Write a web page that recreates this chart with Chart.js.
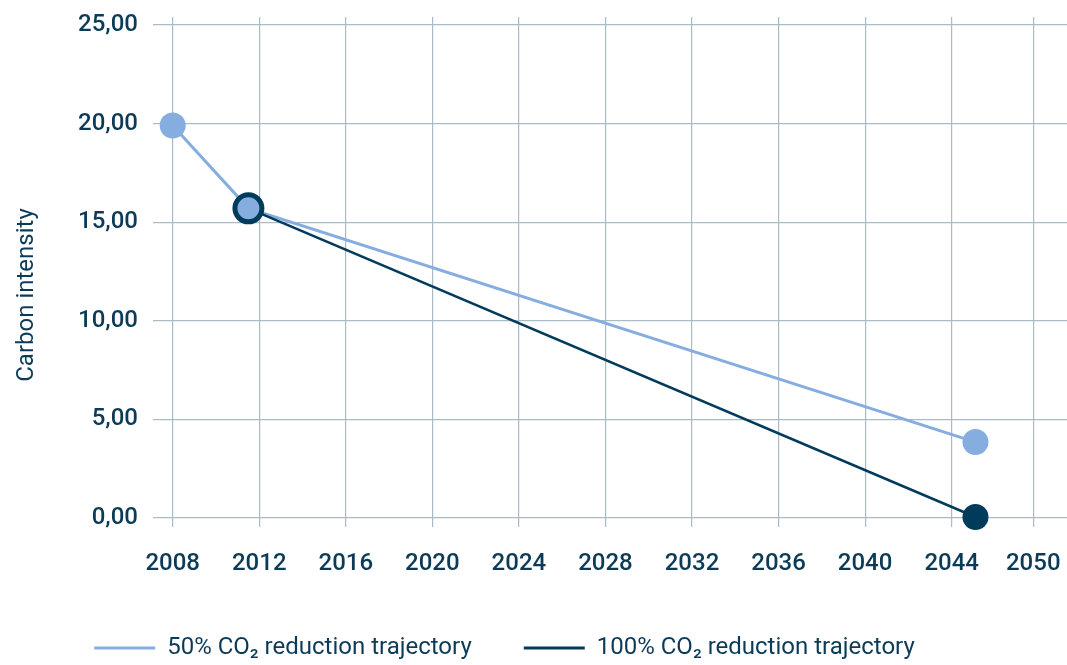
<!DOCTYPE html>
<html>
<head>
<meta charset="utf-8">
<script src="https://cdn.jsdelivr.net/npm/chart.js@4.4.1/dist/chart.umd.min.js"></script>
<style>
  html, body { margin: 0; padding: 0; background: #ffffff; }
  #wrap { width: 1067px; height: 665px; position: relative; }
</style>
</head>
<body>
<div id="wrap"><canvas id="c" width="1067" height="665"></canvas></div>
<script>
// ---- data ----
const seriesNames = ['50% CO\u2082 reduction trajectory', '100% CO\u2082 reduction trajectory'];
const years50 = [2008, 2011.5, 2045.1];
const values50 = [19.9, 15.7, 3.85];
const years100 = [2011.5, 2045.1];
const values100 = [15.7, 0.05];
const xTickPositions = [2008, 2012, 2016, 2020, 2024, 2028, 2032, 2036, 2040, 2044, 2047.77];
const xTickLabels = ['2008', '2012', '2016', '2020', '2024', '2028', '2032', '2036', '2040', '2044', '2050'];
const yTickValues = [0, 5, 10, 15, 20, 25];
const yTitle = 'Carbon intensity';

// ---- style ----
const LIGHT = '#85addf';
const DARK = '#003b5c';
const TEXT = '#0c3b58';
const GRID = '#a9bbc7';
const FONT = 'Roboto, "Noto Sans", sans-serif';

const toPoints = (xs, ys) => xs.map((x, i) => ({ x: x, y: ys[i] }));

const noPad = (scale) => {
  scale.paddingLeft = 0; scale.paddingRight = 0;
  scale.paddingTop = 0; scale.paddingBottom = 0;
};

const yTitlePlugin = {
  id: 'yTitle',
  afterDraw(chart) {
    const ctx = chart.ctx;
    ctx.save();
    ctx.translate(33, 295);
    ctx.rotate(-Math.PI / 2);
    ctx.font = '400 24px ' + FONT;
    ctx.fillStyle = TEXT;
    ctx.textAlign = 'center';
    ctx.textBaseline = 'alphabetic';
    ctx.fillText(yTitle, 0, 0);
    ctx.restore();
  }
};

const legendShift = {
  id: 'legendShift',
  afterLayout(chart) {
    const lg = chart.legend;
    if (!lg) return;
    const dx = -29, dy = 5;
    lg.left += dx; lg.right += dx;
    lg.top += dy; lg.bottom += dy;
  }
};

new Chart(document.getElementById('c'), {
  type: 'line',
  data: {
    datasets: [
      {
        label: seriesNames[0],
        data: toPoints(years50, values50),
        borderColor: LIGHT,
        backgroundColor: LIGHT,
        borderWidth: 3,
        pointRadius: 13,
        pointBorderWidth: 0,
        pointBackgroundColor: LIGHT,
        pointBorderColor: LIGHT,
        clip: false,
        order: 1
      },
      {
        label: seriesNames[1],
        data: toPoints(years100, values100),
        borderColor: DARK,
        backgroundColor: DARK,
        borderWidth: 2.5,
        pointRadius: [13.5, 13],
        pointBorderWidth: [5, 0],
        pointBackgroundColor: [LIGHT, DARK],
        pointBorderColor: DARK,
        clip: false,
        order: 0
      }
    ]
  },
  options: {
    responsive: false,
    animation: false,
    events: [],
    layout: { autoPadding: false, padding: { top: 17, right: 0, bottom: 0, left: 0 } },
    scales: {
      x: {
        type: 'linear',
        min: 2007.46,
        max: 2049.33,
        border: { display: false },
        grid: { color: GRID, lineWidth: 1.2, tickLength: 9, drawTicks: true },
        afterBuildTicks(scale) { scale.ticks = xTickPositions.map(v => ({ value: v })); },
        afterFit(scale) { scale.height = 61; noPad(scale); },
        ticks: {
          autoSkip: false,
          maxRotation: 0,
          padding: 23,
          color: TEXT,
          font: { family: FONT, size: 24, weight: '500' },
          callback: (v, i) => xTickLabels[i]
        }
      },
      y: {
        type: 'linear',
        min: 0,
        max: 25.4,
        border: { display: false },
        grid: { color: GRID, lineWidth: 1.2, tickLength: 8, drawTicks: true },
        afterBuildTicks(scale) { scale.ticks = yTickValues.map(v => ({ value: v })); },
        afterFit(scale) { scale.width = 161; noPad(scale); },
        ticks: {
          padding: 15,
          color: TEXT,
          font: { family: FONT, size: 24, weight: '500' },
          callback: v => v.toFixed(2).replace('.', ',')
        }
      }
    },
    plugins: {
      tooltip: { enabled: false },
      legend: {
        position: 'bottom',
        align: 'center',
        labels: {
          boxWidth: 61,
          boxHeight: 3,
          padding: 52,
          color: TEXT,
          font: { family: FONT, size: 24, weight: '400' },
          sort: (a, b) => a.datasetIndex - b.datasetIndex,
          generateLabels(chart) {
            return chart.data.datasets.map((ds, i) => ({
              text: ds.label,
              fillStyle: ds.borderColor,
              strokeStyle: ds.borderColor,
              lineWidth: 0,
              hidden: false,
              datasetIndex: i,
              fontColor: TEXT
            }));
          }
        }
      }
    }
  },
  plugins: [yTitlePlugin, legendShift]
});
</script>
</body>
</html>
